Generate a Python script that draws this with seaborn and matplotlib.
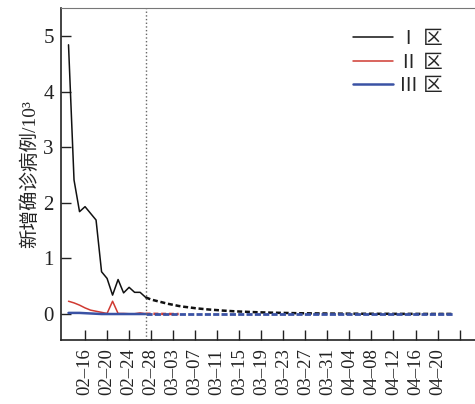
import numpy as np
import pandas as pd
import matplotlib
matplotlib.use("Agg")
import matplotlib.pyplot as plt
import seaborn as sns

# day 0 = 2020-02-16
obs_days = list(range(-3, 12))
pred_days = list(range(11, 68))

zone1_obs = [4.84, 2.41, 1.84, 1.93, 1.81, 1.69, 0.76, 0.64, 0.34, 0.62, 0.38, 0.48, 0.39, 0.39, 0.30]
zone2_obs = [0.23, 0.20, 0.16, 0.11, 0.07, 0.05, 0.03, 0.01, 0.23, 0.01, 0.01, 0.005, 0.005, 0.02, 0.005]
zone3_obs = [0.02, 0.02, 0.02, 0.015, 0.01, 0.005, 0.0, 0.0, 0.0, 0.0, 0.0, 0.0, 0.0, 0.0, 0.0]

zone1_pred = [0.30, 0.26, 0.235, 0.21, 0.185, 0.165, 0.145, 0.13, 0.118, 0.105,
              0.095, 0.085, 0.077, 0.07, 0.062, 0.056, 0.05, 0.045, 0.041, 0.037,
              0.033, 0.03, 0.027, 0.024, 0.022, 0.02, 0.018, 0.016, 0.014, 0.013,
              0.012, 0.011, 0.010, 0.009, 0.008, 0.007, 0.007, 0.006, 0.006, 0.005,
              0.005, 0.005, 0.004, 0.004, 0.004, 0.003, 0.003, 0.003, 0.003, 0.003,
              0.002, 0.002, 0.002, 0.002, 0.002, 0.002, 0.002]
zone2_pred = [0.005, 0.004, 0.003, 0.002, 0.001, 0.0, 0.0]
zone3_pred = [0.0] * 57

tick_days = list(range(0, 72, 4))
tick_labels = ["02–16", "02–20", "02–24", "02–28", "03–03", "03–07", "03–11",
               "03–15", "03–19", "03–23", "03–27", "03–31", "04–04", "04–08",
               "04–12", "04–16", "04–20", ""]

zone_names = ["Ⅰ 区", "Ⅱ 区", "Ⅲ 区"]
colors = {"Ⅰ 区": "#111111", "Ⅱ 区": "#d03a32", "Ⅲ 区": "#3a52a4"}
widths = {"Ⅰ 区": 1.1, "Ⅱ 区": 1.1, "Ⅲ 区": 1.8}
pred_styles = {"Ⅰ 区": (1.8, (0, (2.0, 1.1))),
               "Ⅱ 区": (1.8, (0, (2.0, 1.1))),
               "Ⅲ 区": (2.0, (0, (2.2, 0.8)))}

sns.set_style("ticks")
plt.rcParams['font.family'] = ['Liberation Serif', 'Noto Sans CJK SC', 'DejaVu Sans']
plt.rcParams['axes.unicode_minus'] = False

obs = pd.DataFrame({
    "day": obs_days * 3,
    "value": zone1_obs + zone2_obs + zone3_obs,
    "zone": sum([[z] * len(obs_days) for z in zone_names], []),
})
pred = pd.DataFrame({
    "day": pred_days + pred_days[:len(zone2_pred)] + pred_days,
    "value": zone1_pred + zone2_pred + zone3_pred,
    "zone": ["Ⅰ 区"] * len(zone1_pred) + ["Ⅱ 区"] * len(zone2_pred) + ["Ⅲ 区"] * len(zone3_pred),
})

fig = plt.figure(figsize=(4.75, 4.04), dpi=100)
ax = fig.add_axes([0.128, 0.158, 0.872, 0.822])

for z in zone_names:
    lw, ls = pred_styles[z]
    sns.lineplot(data=pred[pred.zone == z], x="day", y="value", color=colors[z],
                 lw=lw, ls=ls, ax=ax, legend=False)
for z in zone_names:
    sns.lineplot(data=obs[obs.zone == z], x="day", y="value", color=colors[z],
                 lw=widths[z], ax=ax, label=z)

ax.axvline(11, color="#666666", ls=":", lw=1.0)

ax.set_xlim(-4.4, 70.8)
ax.set_ylim(-0.47, 5.5)
ax.set_xticks(tick_days)
ax.set_xticklabels(tick_labels, rotation=90, fontsize=13.5)
ax.set_yticks([0, 1, 2, 3, 4, 5])
ax.tick_params(axis='y', labelsize=15, pad=5)
ax.tick_params(axis='x', pad=6)
ax.tick_params(direction='in', length=7, width=1, colors='#222222')
ax.set_xlabel("")
ax.set_ylabel("新增确诊病例/10³", fontsize=14, labelpad=3)

ax.spines["right"].set_visible(False)
ax.spines["top"].set_color("#777777")
for s in ["left", "bottom"]:
    ax.spines[s].set_color("#222222")
    ax.spines[s].set_linewidth(1.2)

ax.legend(loc="upper right", bbox_to_anchor=(0.965, 0.985), frameon=False,
          fontsize=14, handlelength=2.1, labelspacing=0.3, handletextpad=0.3)

fig.savefig("out.png", dpi=100)
